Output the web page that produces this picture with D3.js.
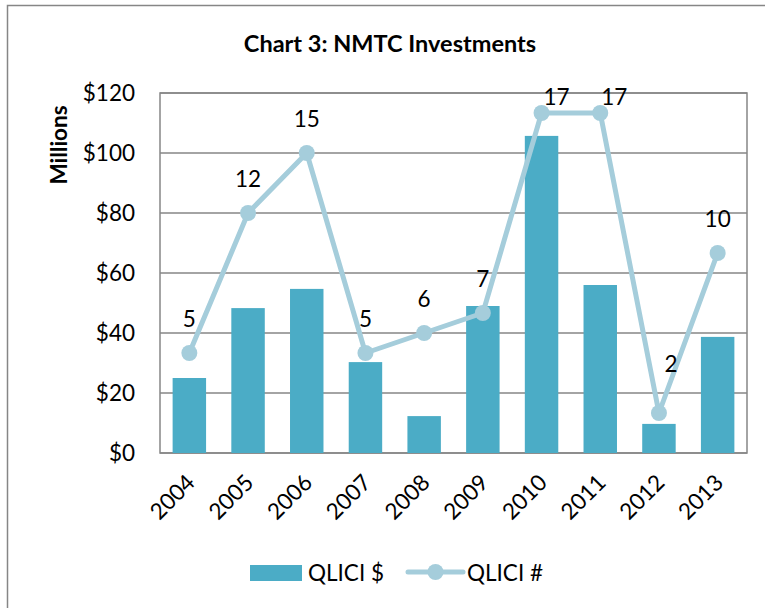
<!DOCTYPE html>
<html><head><meta charset="utf-8">
<script src="https://cdnjs.cloudflare.com/ajax/libs/d3/7.8.5/d3.min.js"></script>
<style>body{margin:0;background:#fff}svg{display:block}text{font-family:Lato,"Open Sans",sans-serif;fill:#000}</style>
</head><body>
<script>
const years = ["2004","2005","2006","2007","2008","2009","2010","2011","2012","2013"];
const qliciDollars = [25, 48.3, 54.7, 30.3, 12.3, 49, 105.7, 56, 9.7, 38.7];
const qliciCount = [5, 12, 15, 5, 6, 7, 17, 17, 2, 10];
const yTicks = [0, 20, 40, 60, 80, 100, 120];
const labelDx = [0, 0, 0, 0, 0, 0, 15, 14, 12, 0];
const labelDy = [-35, -35, -35, -35, -35, -35, -17, -17, -50, -35];

const W = 765, H = 608;
const m = {left:160, right:18, top:93, bottom:155};
const FS = 22.5;
const svg = d3.select("body").append("svg").attr("width", W).attr("height", H);

svg.append("rect").attr("x",7.5).attr("y",5.5).attr("width",W+10).attr("height",H+10)
  .attr("fill","none").attr("stroke","#868686").attr("stroke-width",1.5);

const x = d3.scaleBand().domain(years).range([m.left, W - m.right]).paddingInner(0.43).paddingOuter(0.215);
const xc = d3.scaleBand().domain(years).range([m.left, W - m.right]);
const y = d3.scaleLinear().domain([0, 120]).range([H - m.bottom, m.top]);
const y2 = d3.scaleLinear().domain([0, 18]).range([H - m.bottom, m.top]);

// gridlines
svg.append("g").selectAll("line").data(yTicks).join("line")
  .attr("x1", m.left).attr("x2", W - m.right)
  .attr("y1", d => y(d)).attr("y2", d => y(d))
  .attr("stroke", "#868686").attr("stroke-width", 1.5);
svg.append("rect").attr("x", m.left).attr("y", m.top).attr("width", W - m.right - m.left).attr("height", H - m.bottom - m.top)
  .attr("fill","none").attr("stroke","#868686").attr("stroke-width",1.5);

// y axis labels
const yAxis = d3.axisLeft(y).tickValues(yTicks).tickSize(0).tickPadding(25).tickFormat(d => "$" + d);
const ya = svg.append("g").attr("transform", `translate(${m.left},0)`).call(yAxis);
ya.select(".domain").remove();
ya.selectAll("text").attr("font-size", FS).attr("font-family", "Lato");

// bars
svg.append("g").selectAll("rect").data(years).join("rect")
  .attr("x", d => x(d)).attr("width", x.bandwidth())
  .attr("y", (d,i) => y(qliciDollars[i])).attr("height", (d,i) => y(0) - y(qliciDollars[i]))
  .attr("fill", "#4BACC6");

// line
const lineColor = "#A5CDDB";
const line = d3.line().x((d,i) => xc(years[i]) + xc.bandwidth()/2).y(d => y2(d));
svg.append("path").datum(qliciCount).attr("d", line).attr("fill","none")
  .attr("stroke", lineColor).attr("stroke-width", 5).attr("stroke-linejoin","round");
svg.append("g").selectAll("circle").data(qliciCount).join("circle")
  .attr("cx", (d,i) => xc(years[i]) + xc.bandwidth()/2).attr("cy", d => y2(d)).attr("r", 8)
  .attr("fill", lineColor);
svg.append("g").selectAll("text").data(qliciCount).join("text")
  .attr("x", (d,i) => xc(years[i]) + xc.bandwidth()/2 + labelDx[i])
  .attr("y", (d,i) => y2(d) + labelDy[i])
  .attr("text-anchor","middle").attr("dominant-baseline","central")
  .attr("font-size", FS).text(d => d);

// x labels
const xAxis = d3.axisBottom(xc).tickSize(0).tickPadding(0);
const xa = svg.append("g").attr("transform", `translate(0,${H - m.bottom})`).call(xAxis);
xa.select(".domain").remove();
xa.selectAll("text").attr("font-size", FS).attr("font-family","Lato")
  .attr("text-anchor","end").attr("dy", 0)
  .attr("transform", "translate(7,31) rotate(-45)");

// title
svg.append("text").attr("x", 390).attr("y", 52).attr("text-anchor","middle")
  .attr("font-weight","bold").attr("font-size", 23.5).text("Chart 3: NMTC Investments");
// y title
svg.append("text").attr("transform", "translate(67,145) rotate(-90)").attr("text-anchor","middle")
  .attr("font-weight","bold").attr("font-size", 22.5).text("Millions");

// legend
const lg = svg.append("g");
lg.append("rect").attr("x", 250).attr("y", 565).attr("width", 52).attr("height", 16).attr("fill", "#4BACC6");
lg.append("text").attr("x", 308).attr("y", 581).attr("font-size", FS).text("QLICI $");
lg.append("line").attr("x1", 408).attr("x2", 463).attr("y1", 572).attr("y2", 572).attr("stroke", lineColor).attr("stroke-width", 5).attr("stroke-linecap","round");
lg.append("circle").attr("cx", 435.5).attr("cy", 572).attr("r", 8).attr("fill", lineColor);
lg.append("text").attr("x", 467).attr("y", 581).attr("font-size", FS).text("QLICI #");
</script>
</body></html>
